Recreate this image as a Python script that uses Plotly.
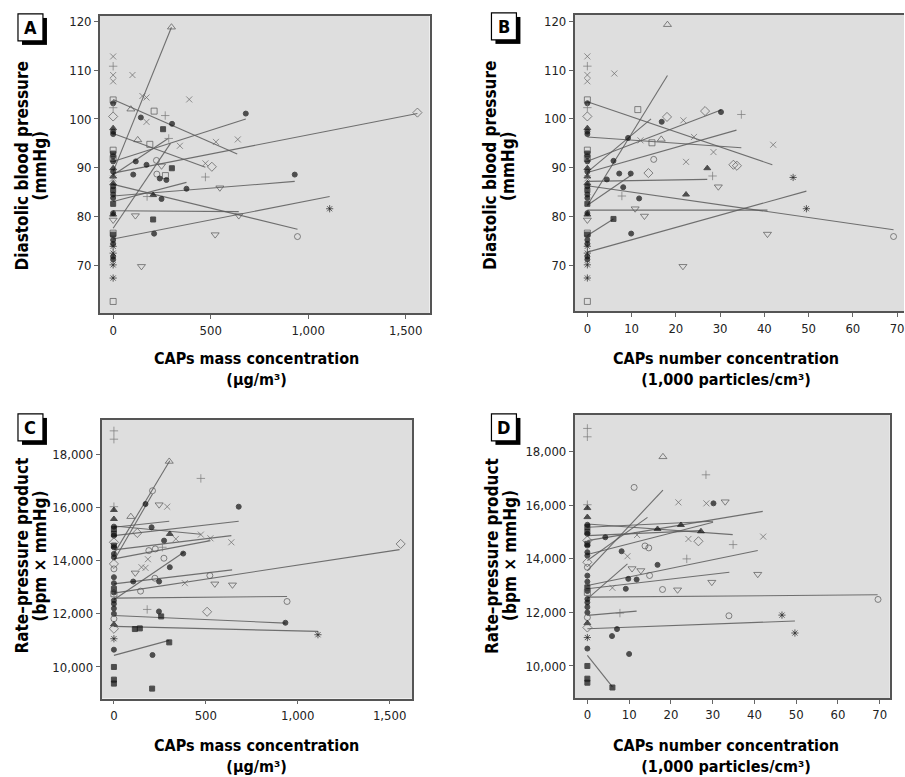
import plotly.graph_objects as go

W, H = 905, 777
FONT = "Liberation Sans Narrow, DejaVu Sans Condensed, Arial Narrow, sans-serif"

# ---------------- data ----------------
# sham (0 exposure) points, shared by A/B and C/D
dbp_sham_y = [112.8, 110.8, 109.0, 107.7, 103.9, 103.2, 102.3, 100.5, 98.1, 97.4, 96.9, 93.6, 92.9,
              92.3, 91.9, 91.3, 89.9, 89.2, 88.2, 87.8, 86.8, 86.2, 85.4, 84.5, 83.8, 82.6, 80.7,
              80.4, 79.3, 76.6, 76.3, 75.2, 74.4, 73.9, 72.5, 71.8, 71.2, 70.1, 67.4, 62.6]
dbp_sham_sym = ['x', '+', 'x', 'x', 's', 'O', '+', 'd', 'T', 'O', 'O', 's', 'S',
                'O', 's', 'O', 'T', 'O', 'T', 'x', 'T', 'O', 'S', 'O', 'O', 'S', 'O',
                'T', 'v', 's', 'S', 'O', 'O', '*', '*', 'O', 'O', '*', '*', 's']

rpp_sham_y = [18875, 18562, 16025, 15900, 15562, 15275, 15187, 15000, 14937, 14687, 14562, 14500,
              14250, 14125, 13875, 13687, 13375, 13150, 12937, 12800, 12750, 12500, 12375, 12200,
              12000, 11812, 11600, 11437, 11062, 10650, 10000, 9525, 9375]
rpp_sham_sym = ['+', '+', '+', 'T', 'T', 'O', 'S', 'S', 'O', 'd', 'S', 'O',
                'O', 'O', 'd', 'o', 'O', 'O', 'S', 'O', 's', 'O', 'O', 'O',
                'O', 'o', 'T', 'd', '*', 'O', 'S', 'S', 'S']

# Panel A: DBP vs CAPs mass
a_x = [299, 99, 150, 171, 390, 91, 142, 210, 267, 171, 302, 680, 256, 126, 188, 285, 342, 527, 639,
       116, 171, 222, 506, 473, 473, 103, 224, 248, 301, 268, 239, 273, 376, 547, 931, 205, 174,
       248, 1110, 114, 644, 205, 210, 523, 945, 145, 1560]
a_y = [118.8, 109.0, 104.7, 104.4, 104.0, 102.0, 100.3, 101.6, 100.7, 99.4, 99.0, 101.1, 97.9, 95.7,
       94.8, 96.0, 94.5, 95.3, 95.8, 91.3, 90.6, 91.5, 90.2, 90.9, 88.1, 88.6, 88.7, 90.4, 89.9,
       88.4, 87.8, 87.5, 85.7, 85.9, 88.6, 84.4, 84.1, 83.6, 81.6, 80.2, 80.2, 79.4, 76.5, 76.3,
       75.9, 69.8, 101.3]
a_sym = ['t', 'x', 'x', 'x', 'x', 't', 'O', 's', '+', 'x', 'O', 'O', 'S', 't', 's', '+', 'x', 'x', 'x',
         'O', 'O', 'o', 'd', 'x', '+', 'O', 'o', 'v', 'S', 's', 'O', 'O', 'O', 'v', 'O', 'T', '+',
         'O', '*', 'v', 'v', 'S', 'O', 'v', 'o', 'v', 'd']
a_fit_x0 = [0, 0, 0, 0, 0, 0, 0, 0, 0, 0, 0, 0]
a_fit_x1 = [299, 294, 636, 473, 680, 1560, 376, 931, 945, 644, 1110, 282]
a_fit_y0 = [89.2, 77.6, 104.0, 97.0, 91.3, 88.9, 83.1, 84.2, 86.6, 81.2, 75.4, 88.5]
a_fit_y1 = [118.8, 95.0, 92.8, 90.1, 100.0, 101.1, 87.0, 87.2, 77.4, 81.0, 84.1, 96.0]

# Panel B: DBP vs CAPs number
b_x = [18.1, 6.1, 11.4, 18.0, 21.7, 16.8, 26.6, 30.2, 34.8, 9.2, 12.0, 14.6, 16.7, 24.1, 28.5, 42.0,
       15.0, 22.3, 13.8, 33.0, 33.8, 27.1, 28.3, 29.6, 5.9, 4.4, 7.2, 9.8, 8.1, 7.8, 11.7, 22.3,
       10.8, 12.9, 5.9, 9.9, 40.7, 21.6, 46.5, 49.5, 69.2]
b_y = [119.3, 109.3, 101.9, 100.4, 99.7, 99.4, 101.6, 101.4, 100.9, 96.1, 95.6, 95.1, 95.8, 96.3,
       93.2, 94.7, 91.7, 91.2, 88.9, 90.6, 90.4, 89.9, 88.3, 86.1, 91.4, 87.6, 88.8, 88.8, 86.0,
       84.2, 83.7, 84.5, 81.6, 80.1, 79.5, 76.5, 76.4, 69.8, 88.0, 81.6, 75.9]
b_sym = ['t', 'x', 's', 'd', 'x', 'O', 'd', 'O', '+', 'O', 'x', 's', 't', 'x', 'x', 'x',
         'o', 'x', 'd', 'd', 'd', 'T', '+', 'v', 'O', 'O', 'O', 'O', 'O', '+', 'O', 'T',
         'v', 'v', 'S', 'O', 'v', 'v', '*', '*', 'o']
b_fit_x0 = [0, 0, 0, 0, 0, 0, 0, 0, 0, 0, 0, 0]
b_fit_x1 = [18.1, 41.8, 34.8, 30.2, 33.7, 27.1, 69.2, 40.7, 5.9, 49.5, 9.8, 14.4]
b_fit_y0 = [82.3, 103.5, 96.3, 91.3, 89.0, 87.2, 86.3, 81.3, 76.1, 72.7, 82.3, 89.1]
b_fit_y1 = [108.9, 90.6, 94.1, 101.8, 97.7, 87.6, 77.3, 81.3, 79.5, 85.2, 88.4, 100.0]

# Panel C: RPP vs CAPs mass
c_x = [301, 473, 210, 172, 246, 290, 679, 92, 205, 127, 304, 473, 525, 639, 337, 273, 190, 225, 264,
       377, 272, 185, 150, 172, 304, 116, 223, 246, 105, 522, 549, 645, 386, 145, 942, 181, 507,
       245, 257, 933, 114, 141, 1110, 1560, 301, 210, 208]
c_y = [17725, 17087, 16625, 16125, 16100, 16025, 16025, 15650, 15250, 15037, 15000, 14975, 14837,
       14687, 14812, 14750, 14375, 14437, 14500, 14262, 14087, 14050, 13750, 13725, 13750, 13537,
       13337, 13212, 13212, 13437, 13125, 13087, 13150, 12850, 12462, 12162, 12075, 12087, 11900,
       11662, 11425, 11450, 11212, 14625, 10925, 10450, 9187]
c_sym = ['t', '+', 'o', 'O', 'v', 'x', 'O', 't', 'O', 'd', 'T', 'x', 'x', 'x', 'x', 'O', 'o', 'o', '+',
         'O', 'o', 'x', 'x', 'x', 'O', 'v', 'o', 'O', 'O', 'o', 'v', 'v', 'x', 'o', 'o', '+', 'd',
         'O', 'S', 'O', 'S', 'S', '*', 'd', 'S', 'O', 'S']
c_fit_x0 = [0, 0, 0, 0, 0, 0, 0, 0, 0, 0, 0, 0, 0, 0]
c_fit_x1 = [304, 210, 301, 473, 679, 639, 525, 380, 643, 1554, 942, 933, 1110, 301]
c_fit_y0 = [14250, 14000, 15250, 15300, 14937, 14400, 14062, 12525, 13125, 12775, 12587, 11937, 11525, 10437]
c_fit_y1 = [17750, 16500, 15475, 14990, 15475, 14937, 14750, 14312, 13650, 14412, 12650, 11650, 11337, 11000]

# Panel D: RPP vs CAPs number
d_x = [18.1, 28.4, 11.2, 21.8, 28.5, 30.2, 33.0, 22.4, 16.8, 27.2, 11.9, 4.3, 42.1, 24.2, 26.6, 34.9,
       13.8, 14.7, 8.2, 9.6, 23.8, 16.8, 10.7, 12.8, 14.9, 40.8, 9.8, 11.8, 29.8, 6.0, 9.2, 18.0,
       21.6, 69.6, 7.8, 33.9, 46.6, 7.1, 5.9, 49.7, 10.0, 6.0]
d_y = [17814, 17143, 16671, 16112, 16075, 16075, 16137, 15267, 15118, 15031, 14895, 14808, 14833,
       14746, 14659, 14535, 14485, 14411, 14286, 14100, 14001, 13777, 13640, 13566, 13380, 13429,
       13255, 13230, 13131, 12920, 12883, 12858, 12846, 12486, 11975, 11875, 11900, 11378, 11117,
       11231, 10448, 9195]
d_sym = ['t', '+', 'o', 'x', 'x', 'O', 'v', 'T', 'T', 'T', 'x', 'O', 'x', 'x', 'd', '+',
         'o', 'o', 'O', 'x', '+', 'O', 'v', 'v', 'o', 'v', 'O', 'O', 'v', 'x', 'O', 'o',
         'v', 'o', '+', 'o', '*', 'O', 'O', '*', 'O', 'S']
d_fit_x0 = [0, 0, 0, 0, 0, 0, 0, 0, 0, 0, 0, 0, 0, 0]
d_fit_x1 = [18.1, 14.4, 34.8, 27.2, 30.1, 42.0, 30.1, 9.6, 40.8, 34.0, 69.5, 11.8, 49.7, 6.0]
d_fit_y0 = [13566, 13938, 15305, 14870, 15180, 14684, 14162, 12510, 13007, 12883, 12572, 11889, 11393, 10399]
d_fit_y1 = [16572, 15553, 14907, 15056, 15404, 15777, 15367, 13814, 14311, 13504, 12660, 12050, 11679, 9220]

# ---------------- styling ----------------
SYM = {'o': 'circle-open', 'O': 'circle', 's': 'square-open', 'S': 'square',
       't': 'triangle-up-open', 'T': 'triangle-up', 'v': 'triangle-down-open',
       'd': 'diamond-open', 'x': 'x-thin-open', '+': 'cross-thin-open', '*': 'asterisk-open'}
SIZE = {'o': 6, 'O': 5, 's': 6, 'S': 5, 't': 7, 'T': 6, 'v': 7, 'd': 7, 'x': 6, '+': 6, '*': 6}
COL = {'o': '#555', 'O': '#111', 's': '#555', 'S': '#111', 't': '#555', 'T': '#111', 'v': '#555',
       'd': '#555', 'x': '#666', '+': '#777', '*': '#222'}


def px(xp):
    return xp / W


def py(yp):
    return 1 - yp / H


panels = [
    dict(xs=a_x, ys=a_y, syms=a_sym, sham_y=dbp_sham_y, sham_sym=dbp_sham_sym,
         fx0=a_fit_x0, fx1=a_fit_x1, fy0=a_fit_y0, fy1=a_fit_y1,
         dom_x=(100, 430), dom_y=(14, 312), xr=(-68, 1622), yr=(60.2, 121.1),
         xt=[0, 500, 1000, 1500], yt=[70, 80, 90, 100, 110, 120], mirror_y=True),
    dict(xs=b_x, ys=b_y, syms=b_sym, sham_y=dbp_sham_y, sham_sym=dbp_sham_sym,
         fx0=b_fit_x0, fx1=b_fit_x1, fy0=b_fit_y0, fy1=b_fit_y1,
         dom_x=(575.3, 905), dom_y=(12.7, 310), xr=(-2.87, 71.56), yr=(60.6, 121.35),
         xt=[0, 10, 20, 30, 40, 50, 60, 70], yt=[70, 80, 90, 100, 110, 120], mirror_y=False),
    dict(xs=c_x, ys=c_y, syms=c_sym, sham_y=rpp_sham_y, sham_sym=rpp_sham_sym,
         fx0=c_fit_x0, fx1=c_fit_x1, fy0=c_fit_y0, fy1=c_fit_y1,
         dom_x=(101.7, 412.7), dom_y=(419, 698.3), xr=(-67, 1623), yr=(8815, 19286),
         xt=[0, 500, 1000, 1500], yt=[10000, 12000, 14000, 16000, 18000], mirror_y=True),
    dict(xs=d_x, ys=d_y, syms=d_sym, sham_y=rpp_sham_y, sham_sym=rpp_sham_sym,
         fx0=d_fit_x0, fx1=d_fit_x1, fy0=d_fit_y0, fy1=d_fit_y1,
         dom_x=(575.3, 890.7), dom_y=(414, 697.7), xr=(-3.04, 72.4), yr=(8807, 19379),
         xt=[0, 10, 20, 30, 40, 50, 60, 70], yt=[10000, 12000, 14000, 16000, 18000], mirror_y=True),
]

fig = go.Figure()
layout = dict(width=W, height=H, margin=dict(l=0, r=0, t=0, b=0), paper_bgcolor='white',
              plot_bgcolor='rgba(0,0,0,0)', showlegend=False, shapes=[], annotations=[])

for i, p in enumerate(panels):
    n = '' if i == 0 else str(i + 1)
    xa, ya = 'x' + n, 'y' + n
    lx, ly = [], []
    for x0, x1, y0, y1 in zip(p['fx0'], p['fx1'], p['fy0'], p['fy1']):
        lx += [x0, x1, None]
        ly += [y0, y1, None]
    fig.add_trace(go.Scatter(x=lx, y=ly, mode='lines', xaxis=xa, yaxis=ya,
                             line=dict(color='rgba(90,90,90,0.85)', width=1.1), hoverinfo='skip'))
    allx = [0] * len(p['sham_y']) + p['xs']
    ally = p['sham_y'] + p['ys']
    alls = p['sham_sym'] + p['syms']
    fig.add_trace(go.Scatter(
        x=allx, y=ally, mode='markers', xaxis=xa, yaxis=ya,
        marker=dict(symbol=[SYM[s] for s in alls], size=[SIZE[s] for s in alls],
                    color=[COL[s] for s in alls],
                    line=dict(width=1, color=[COL[s] for s in alls]))))
    axis_common = dict(showgrid=False, zeroline=False, showline=True, linecolor='#555', linewidth=1.5,
                       ticks='outside', ticklen=4, tickcolor='#666', tickwidth=1,
                       tickfont=dict(family=FONT, size=13, color='#222'), tickformat=',',
                       ticklabeloverflow='allow')
    layout['xaxis' + n] = dict(axis_common, domain=[px(p['dom_x'][0]), px(p['dom_x'][1])],
                               range=list(p['xr']), tickvals=p['xt'], mirror=True, anchor=ya)
    layout['yaxis' + n] = dict(axis_common, domain=[py(p['dom_y'][1]), py(p['dom_y'][0])],
                               range=list(p['yr']), tickvals=p['yt'], mirror=p['mirror_y'],
                               anchor=xa)
    layout['shapes'].append(dict(type='rect', xref='paper', yref='paper', layer='below',
                                 x0=px(p['dom_x'][0]), x1=px(p['dom_x'][1]),
                                 y0=py(p['dom_y'][1]), y1=py(p['dom_y'][0]),
                                 fillcolor='#dedede', line=dict(width=0)))

# panel letter boxes
for lab, (bx, by) in zip('ABCD', [(18, 12), (492, 11), (18, 413), (492, 413)]):
    layout['shapes'].append(dict(type='rect', xref='paper', yref='paper',
                                 x0=px(bx + 4), x1=px(bx + 29), y0=py(by + 31), y1=py(by + 4),
                                 fillcolor='black', line=dict(width=0)))
    layout['shapes'].append(dict(type='rect', xref='paper', yref='paper',
                                 x0=px(bx), x1=px(bx + 25), y0=py(by + 27), y1=py(by),
                                 fillcolor='white', line=dict(width=1.2, color='black')))
    layout['annotations'].append(dict(text='<b>%s</b>' % lab, xref='paper', yref='paper',
                                      x=px(bx + 12.5), y=py(by + 13.5), showarrow=False,
                                      xanchor='center', yanchor='middle',
                                      font=dict(family=FONT, size=18, color='black')))


def ann(text, x, y, angle=0, size=17):
    layout['annotations'].append(dict(text=text, xref='paper', yref='paper',
                                      x=px(x), y=py(y), showarrow=False, textangle=angle,
                                      xanchor='center', yanchor='middle',
                                      font=dict(family=FONT, size=size, color='black')))


# y-axis titles
ann('<b>Diastolic blood pressure</b>', 22, 164, -90)
ann('<b>(mmHg)</b>', 40, 164, -90)
ann('<b>Diastolic blood pressure</b>', 490, 164, -90)
ann('<b>(mmHg)</b>', 508, 164, -90)
ann('<b>Rate–pressure product</b>', 22, 555, -90)
ann('<b>(bpm × mmHg)</b>', 40, 555, -90)
ann('<b>Rate–pressure product</b>', 492, 555, -90)
ann('<b>(bpm × mmHg)</b>', 510, 555, -90)
# x-axis titles (two lines each)
ann('<b>CAPs mass concentration</b><br><b>(µg/m³)</b>', 257, 368, size=16)
ann('<b>CAPs number concentration</b><br><b>(1,000 particles/cm³)</b>', 727, 368, size=16)
ann('<b>CAPs mass concentration</b><br><b>(µg/m³)</b>', 257, 756, size=16)
ann('<b>CAPs number concentration</b><br><b>(1,000 particles/cm³)</b>', 727, 756, size=16)

fig.update_layout(**layout)
fig.write_html("out.html", config={'displayModeBar': False},
               post_script="document.body.style.margin='0';document.body.style.overflow='hidden';")
